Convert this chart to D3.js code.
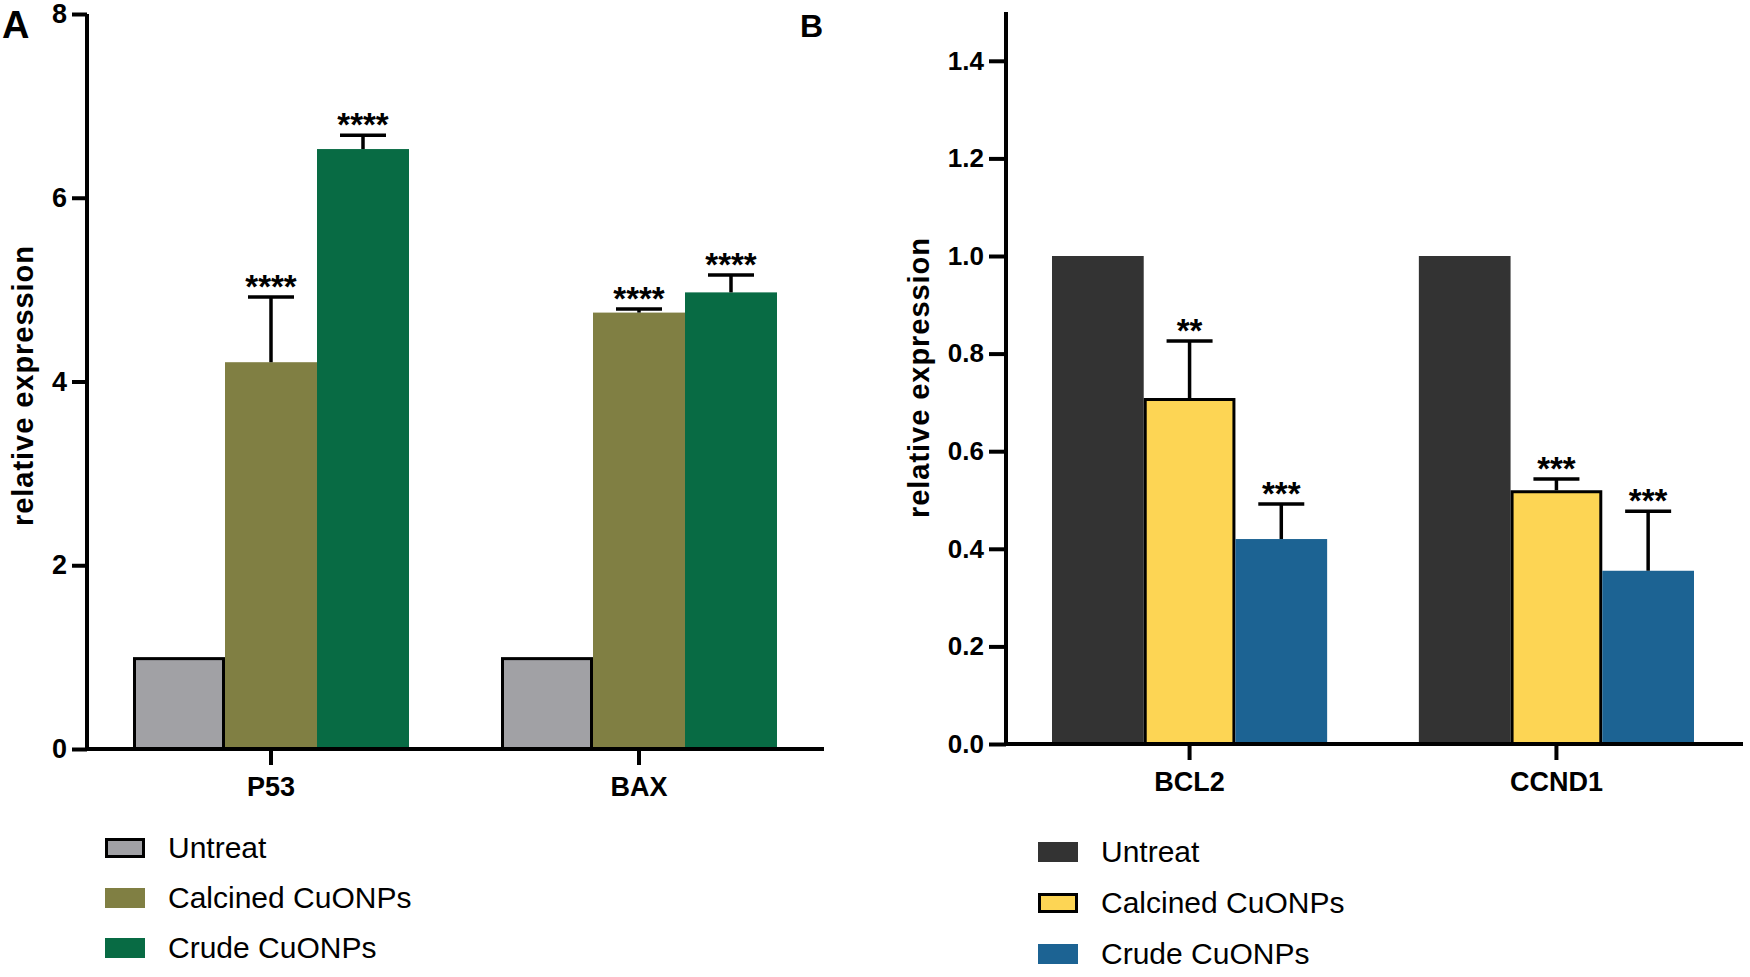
<!DOCTYPE html>
<html>
<head>
<meta charset="utf-8">
<script src="https://cdn.jsdelivr.net/npm/d3@7"></script>
<style>
  body { margin: 0; background: #fff; }
  svg { display: block; font-family: "Liberation Sans", Arial, Helvetica, sans-serif; }
</style>
</head>
<body>
<svg id="chart" width="1750" height="977"></svg>
<script>
// ---- data ----
const series = ['Untreat', 'Calcined CuONPs', 'Crude CuONPs'];

// panel A
const genesA = ['P53', 'BAX'];
const untreatA = [1.0, 1.0];
const calcinedA = [4.21, 4.75];
const crudeA = [6.53, 4.97];
const errCalcinedA = [0.71, 0.04];
const errCrudeA = [0.15, 0.19];
const starsCalcinedA = ['****', '****'];
const starsCrudeA = ['****', '****'];
const ticksA = [0, 2, 4, 6, 8];

// panel B
const genesB = ['BCL2', 'CCND1'];
const untreatB = [1.0, 1.0];
const calcinedB = [0.709, 0.52];
const crudeB = [0.42, 0.355];
const errCalcinedB = [0.117, 0.023];
const errCrudeB = [0.072, 0.122];
const starsCalcinedB = ['**', '***'];
const starsCrudeB = ['***', '***'];
const ticksB = [0, 0.2, 0.4, 0.6, 0.8, 1.0, 1.2, 1.4];

const svg = d3.select('#chart');

function drawPanel(opt) {
  const g = svg.append('g');

  const y = d3.scaleLinear().domain(opt.yDomain).range([opt.y0, opt.yTop]);
  const x0 = d3.scaleBand().domain(opt.genes).range(opt.bandRange).paddingInner(0.25).paddingOuter(0);
  const x1 = d3.scaleBand().domain(series).range([0, x0.bandwidth()]);

  // build rows per gene
  const rows = opt.genes.map((gene, i) => ({
    gene,
    bars: [
      { s: series[0], v: opt.untreat[i], err: null, stars: null },
      { s: series[1], v: opt.calcined[i], err: opt.errCalcined[i], stars: opt.starsCalcined[i] },
      { s: series[2], v: opt.crude[i], err: opt.errCrude[i], stars: opt.starsCrude[i] },
    ],
  }));

  const groups = g.selectAll('g.gene')
    .data(rows)
    .join('g')
    .attr('class', 'gene')
    .attr('transform', d => `translate(${x0(d.gene)},0)`);

  // bars
  groups.selectAll('rect')
    .data(d => d.bars)
    .join('rect')
    .attr('x', d => x1(d.s) + (opt.outlined[d.s] ? 1.5 : 0))
    .attr('width', d => x1.bandwidth() - (opt.outlined[d.s] ? 3 : 0))
    .attr('y', d => y(d.v) + (opt.outlined[d.s] ? 1.5 : 0))
    .attr('height', d => y(0) - y(d.v) - (opt.outlined[d.s] ? 1.5 : 0))
    .attr('fill', d => opt.colors[d.s])
    .attr('stroke', d => opt.outlined[d.s] ? '#000' : 'none')
    .attr('stroke-width', 3);

  // error bars (upper only)
  const eb = groups.selectAll('g.err')
    .data(d => d.bars.filter(b => b.err != null))
    .join('g')
    .attr('class', 'err');
  eb.append('line')
    .attr('x1', d => x1(d.s) + x1.bandwidth() / 2)
    .attr('x2', d => x1(d.s) + x1.bandwidth() / 2)
    .attr('y1', d => y(d.v))
    .attr('y2', d => y(d.v + d.err))
    .attr('stroke', '#000').attr('stroke-width', 3.5);
  eb.append('line')
    .attr('x1', d => x1(d.s) + x1.bandwidth() / 2 - 23)
    .attr('x2', d => x1(d.s) + x1.bandwidth() / 2 + 23)
    .attr('y1', d => y(d.v + d.err))
    .attr('y2', d => y(d.v + d.err))
    .attr('stroke', '#000').attr('stroke-width', 3.5);
  eb.append('text')
    .attr('x', d => x1(d.s) + x1.bandwidth() / 2)
    .attr('y', d => y(d.v + d.err) + 1)
    .attr('text-anchor', 'middle')
    .attr('font-size', 33)
    .attr('font-weight', 'bold')
    .text(d => d.stars);

  // y axis
  const yAxis = g.append('g')
    .attr('transform', `translate(${opt.axisX},0)`)
    .call(d3.axisLeft(y).tickValues(opt.ticks).tickFormat(opt.fmt)
      .tickSize(opt.tickLen).tickSizeOuter(0).tickPadding(5));
  yAxis.attr('font-size', null).attr('font-family', null);
  yAxis.select('.domain').remove();
  yAxis.selectAll('.tick line').attr('stroke', '#000').attr('stroke-width', 4);
  yAxis.selectAll('.tick text')
    .style('font-size', opt.tickFont + 'px').style('font-weight', 'bold').attr('fill', '#000');
  g.append('line')
    .attr('x1', opt.axisX).attr('x2', opt.axisX)
    .attr('y1', y(opt.yDomain[1])).attr('y2', y(0) + 2)
    .attr('stroke', '#000').attr('stroke-width', 4);

  // x axis
  const xAxis = g.append('g')
    .attr('transform', `translate(0,${y(0)})`)
    .call(d3.axisBottom(x0).tickSize(16).tickSizeOuter(0).tickPadding(12));
  xAxis.attr('font-size', null).attr('font-family', null);
  xAxis.select('.domain').remove();
  xAxis.selectAll('.tick line').attr('stroke', '#000').attr('stroke-width', 4);
  xAxis.selectAll('.tick text')
    .style('font-size', '27px').style('font-weight', 'bold').attr('fill', '#000');
  g.append('line')
    .attr('x1', opt.axisX - 2).attr('x2', opt.xEnd)
    .attr('y1', y(0)).attr('y2', y(0))
    .attr('stroke', '#000').attr('stroke-width', 4);

  // y title
  g.append('text')
    .attr('transform', `translate(${opt.titleX},${opt.titleY}) rotate(-90)`)
    .attr('text-anchor', 'middle')
    .attr('font-size', 29)
    .attr('font-weight', 'bold')
    .attr('textLength', 280)
    .attr('lengthAdjust', 'spacing')
    .text('relative expression');

  // panel letter
  g.append('text')
    .attr('x', opt.letterX).attr('y', opt.letterY)
    .attr('font-size', opt.letterSize).attr('font-weight', 'bold')
    .text(opt.letter);

  // legend
  const leg = g.append('g')
    .selectAll('g')
    .data(series)
    .join('g')
    .attr('transform', (d, i) => `translate(${opt.legX},${opt.legY + i * opt.legStep})`);
  leg.append('rect')
    .attr('x', d => opt.outlined[d] ? 1.5 : 0)
    .attr('y', d => -10 + (opt.outlined[d] ? 1.5 : 0))
    .attr('width', d => 40 - (opt.outlined[d] ? 3 : 0))
    .attr('height', d => 20 - (opt.outlined[d] ? 3 : 0))
    .attr('fill', d => opt.colors[d])
    .attr('stroke', d => opt.outlined[d] ? '#000' : 'none')
    .attr('stroke-width', 3);
  leg.append('text')
    .attr('x', 63)
    .attr('y', 10)
    .attr('font-size', 30)
    .text(d => d);
}

drawPanel({
  letter: 'A', letterX: 2, letterY: 38, letterSize: 38,
  genes: genesA, untreat: untreatA, calcined: calcinedA, crude: crudeA,
  errCalcined: errCalcinedA, errCrude: errCrudeA,
  starsCalcined: starsCalcinedA, starsCrude: starsCrudeA,
  ticks: ticksA, fmt: d3.format('d'),
  yDomain: [0, 8], y0: 749, yTop: 14,
  bandRange: [133, 777], axisX: 87, xEnd: 824, tickLen: 15, tickFont: 27,
  titleX: 33, titleY: 386,
  colors: { 'Untreat': '#a1a1a5', 'Calcined CuONPs': '#807f43', 'Crude CuONPs': '#086b44' },
  outlined: { 'Untreat': true },
  legX: 105, legY: 848, legStep: 50,
});

drawPanel({
  letter: 'B', letterX: 800, letterY: 37, letterSize: 32,
  genes: genesB, untreat: untreatB, calcined: calcinedB, crude: crudeB,
  errCalcined: errCalcinedB, errCrude: errCrudeB,
  starsCalcined: starsCalcinedB, starsCrude: starsCrudeB,
  ticks: ticksB, fmt: d3.format('.1f'),
  yDomain: [0, 1.5], y0: 744, yTop: 12,
  bandRange: [1052, 1694], axisX: 1006, xEnd: 1743, tickLen: 17, tickFont: 26,
  titleX: 929, titleY: 378,
  colors: { 'Untreat': '#333333', 'Calcined CuONPs': '#fdd554', 'Crude CuONPs': '#1c6393' },
  outlined: { 'Calcined CuONPs': true },
  legX: 1038, legY: 852, legStep: 51,
});
</script>
</body>
</html>
